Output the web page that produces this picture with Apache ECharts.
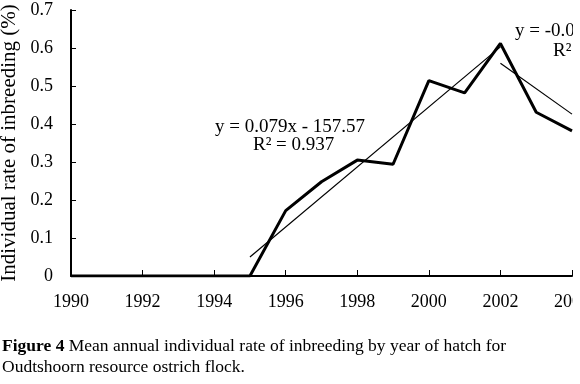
<!DOCTYPE html>
<html>
<head>
<meta charset="utf-8">
<script src="https://cdn.jsdelivr.net/npm/echarts@6/dist/echarts.min.js"></script>
<style>
  html, body { margin: 0; padding: 0; background: #fff; }
  /* the scanned figure is cropped just after the 2004 tick */
  #chart { width: 573px; height: 384px; }
</style>
</head>
<body>
<div id="chart"></div>
<script>
// years of hatch and mean individual rate of inbreeding (%)
const years = [1990, 1991, 1992, 1993, 1994, 1995, 1996, 1997, 1998, 1999, 2000, 2001, 2002, 2003, 2004];
const inbreeding = [0, 0, 0, 0, 0, 0, 0.172, 0.248, 0.305, 0.294, 0.514, 0.482, 0.612, 0.431, 0.382];

// fitted trend lines (end points)
const trendUp = [[1995, 0.05], [2002, 0.603]];
const trendDown = [[2002, 0.56], [2004, 0.426]];

const eqUp = ["y = 0.079x - 157.57", "R² = 0.937"];
const eqDown = ["y = -0.067x + 134.7", "R² = 0.881"];

const serif = '"Liberation Serif", "Times New Roman", serif';

document.addEventListener("DOMContentLoaded", function () {
    const chart = echarts.init(document.getElementById("chart"));

    const option = {
        animation: false,
        backgroundColor: "#fff",
        textStyle: { fontFamily: serif, color: "#000" },
        grid: { left: 71, right: 1, top: 10, bottom: 108, outerBoundsMode: "none", containLabel: false },
        title: {
            left: 2,
            top: 336,
            padding: 0,
            text: "{b|Figure 4} Mean annual individual rate of inbreeding by year of hatch for\nOudtshoorn resource ostrich flock.",
            textStyle: {
                fontFamily: serif,
                fontSize: 17.5,
                fontWeight: "normal",
                color: "#000",
                lineHeight: 21,
                rich: {
                    b: { fontFamily: serif, fontSize: 17.5, fontWeight: "bold", color: "#000", lineHeight: 21 }
                }
            }
        },
        xAxis: {
            type: "value",
            min: 1990,
            max: 2004,
            interval: 2,
            splitLine: { show: false },
            axisLine: { lineStyle: { color: "#000", width: 2 } },
            axisTick: { inside: true, length: 6, lineStyle: { color: "#000", width: 1 } },
            axisLabel: {
                margin: 17,
                fontSize: 18,
                fontFamily: serif,
                color: "#000",
                hideOverlap: false,
                formatter: v => String(v)
            }
        },
        yAxis: {
            type: "value",
            min: 0,
            max: 0.7,
            interval: 0.1,
            name: "Individual rate of inbreeding (%)",
            nameLocation: "middle",
            nameGap: 41,
            nameTextStyle: { fontSize: 21, fontFamily: serif, color: "#000" },
            splitLine: { show: false },
            axisLine: { show: true, lineStyle: { color: "#000", width: 2 } },
            axisTick: { show: true, inside: true, length: 5, lineStyle: { color: "#000", width: 1 } },
            axisLabel: { margin: 18, fontSize: 18, fontFamily: serif, color: "#000" }
        },
        series: [
            {
                type: "line",
                data: years.map((y, i) => [y, inbreeding[i]]),
                showSymbol: false,
                lineStyle: { color: "#000", width: 3 },
                z: 3
            },
            {
                type: "line",
                data: trendUp,
                showSymbol: false,
                lineStyle: { color: "#000", width: 1.2 },
                z: 2
            },
            {
                type: "line",
                data: trendDown,
                showSymbol: false,
                lineStyle: { color: "#000", width: 1.2 },
                z: 2
            }
        ],
        graphic: [
            { type: "text", left: 215, top: 118, style: { text: eqUp[0], font: "19px " + serif, fill: "#000" } },
            { type: "text", left: 253, top: 136, style: { text: eqUp[1], font: "19px " + serif, fill: "#000" } },
            { type: "text", left: 515, top: 22, style: { text: eqDown[0], font: "19px " + serif, fill: "#000" } },
            { type: "text", left: 553, top: 42, style: { text: eqDown[1], font: "19px " + serif, fill: "#000" } }
        ]
    };

    chart.setOption(option);
});
</script>
</body>
</html>
